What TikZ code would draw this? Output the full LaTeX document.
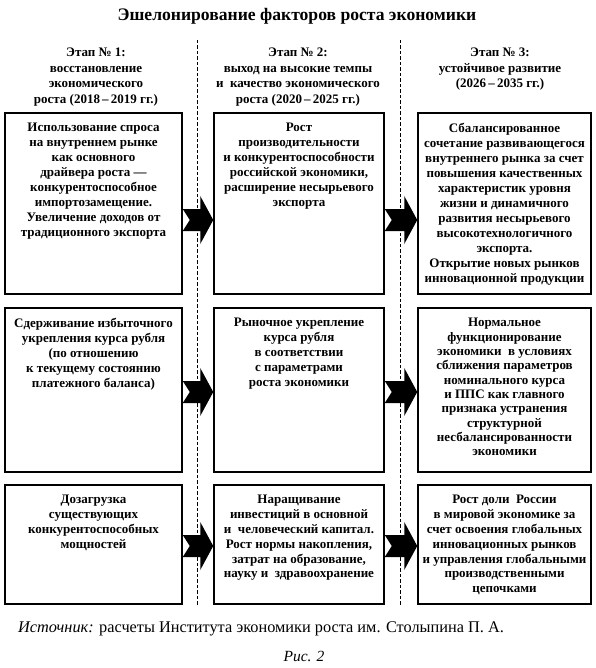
\documentclass[tikz,border=0pt]{standalone}
\usepackage{fontspec}
\setmainfont{Liberation Serif}
\usetikzlibrary{calc}
\tikzset{
  box/.style={draw=black, line width=1.5pt, rectangle, inner sep=0pt},
  txt/.style={anchor=north, align=center, inner sep=0pt, font=\bfseries\fontsize{13}{15}\selectfont},
  hdr/.style={anchor=north, align=center, inner sep=0pt, font=\bfseries\fontsize{13}{15.5}\selectfont},
  sep/.style={line width=1pt, dash pattern=on 3.5pt off 2pt},
}
\newcommand\blockarr[2]{%
  \fill[black] let \p1=(#1), \p2=(#2) in
    (\x1,\y1+11pt) -- ({\x2-13pt},\y1+11pt) -- ({\x2-13pt},\y1+24pt) -- (\x2,\y1)
    -- ({\x2-13pt},\y1-24pt) -- ({\x2-13pt},\y1-11pt) -- (\x1,\y1-11pt)
    -- ({\x1+7pt},\y1) -- cycle;}
\begin{document}
\begin{tikzpicture}[x=1pt,y=-1pt]
\fill[white] (0,0) rectangle (595,668);
\useasboundingbox (0,0) rectangle (595,668);

\node[font=\bfseries\fontsize{17.6}{20}\selectfont, inner sep=0pt] (title) at (297,16) {Эшелонирование факторов роста экономики};

\node[hdr] (h1) at (96,48) {Этап № 1:\\восстановление\\экономического\\роста (2018\,–\,2019 гг.)};
\node[hdr] (h2) at (298,48) {Этап № 2:\\выход на высокие темпы\\и~ качество экономического\\роста (2020\,–\,2025 гг.)};
\node[hdr] (h3) at (500,48) {Этап № 3:\\устойчивое развитие\\(2026\,–\,2035 гг.)};

\coordinate (s1t) at (197,40); \coordinate (s1b) at (197,606);
\coordinate (s2t) at (400,40); \coordinate (s2b) at (400,606);
\draw[sep] (s1t) -- (s1b);
\draw[sep] (s2t) -- (s2b);

% boxes
\node[box, minimum width=177pt, minimum height=181pt] (b11) at (93.5,203.5) {};
\node[box, minimum width=170pt, minimum height=181pt] (b12) at (299,203.5) {};
\node[box, minimum width=173pt, minimum height=181pt] (b13) at (504.5,203.5) {};
\node[box, minimum width=177pt, minimum height=164pt] (b21) at (93.5,390) {};
\node[box, minimum width=170pt, minimum height=164pt] (b22) at (299,390) {};
\node[box, minimum width=173pt, minimum height=164pt] (b23) at (504.5,390) {};
\node[box, minimum width=177pt, minimum height=119pt] (b31) at (93.5,544.5) {};
\node[box, minimum width=170pt, minimum height=119pt] (b32) at (299,544.5) {};
\node[box, minimum width=173pt, minimum height=119pt] (b33) at (504.5,544.5) {};

% texts
\node[txt] (t11) at ([yshift=-11pt]b11.north) {Использование спроса\\на внутреннем рынке\\как основного\\драйвера роста —\\конкурентоспособное\\импортозамещение.\\Увеличение доходов от\\традиционного экспорта};
\node[txt] (t12) at ([yshift=-11pt]b12.north) {Рост\\производительности\\и конкурентоспособности\\российской экономики,\\расширение несырьевого\\экспорта};
\node[txt] (t13) at ([yshift=-11pt]b13.north) {Сбалансированное\\сочетание развивающегося\\внутреннего рынка за счет\\повышения качественных\\характеристик уровня\\жизни и динамичного\\развития несырьевого\\высокотехнологичного\\экспорта.\\Открытие новых рынков\\инновационной продукции};
\node[txt] (t21) at ([yshift=-11pt]b21.north) {Сдерживание избыточного\\укрепления курса рубля\\(по отношению\\к текущему состоянию\\платежного баланса)};
\node[txt] (t22) at ([yshift=-11pt]b22.north) {Рыночное укрепление\\курса рубля\\в соответствии\\с параметрами\\роста экономики};
\node[txt, font=\bfseries\fontsize{13}{14.3}\selectfont] (t23) at ([yshift=-11pt]b23.north) {Нормальное\\функционирование\\экономики~ в условиях\\сближения параметров\\номинального курса\\и ППС как главного\\признака устранения\\структурной\\несбалансированности\\экономики};
\node[txt, font=\bfseries\fontsize{13}{14.8}\selectfont] (t31) at ([yshift=-11pt]b31.north) {Дозагрузка\\существующих\\конкурентоспособных\\мощностей};
\node[txt, font=\bfseries\fontsize{13}{14.8}\selectfont] (t32) at ([yshift=-11pt]b32.north) {Наращивание\\инвестиций в основной\\и~ человеческий капитал.\\Рост нормы накопления,\\затрат на образование,\\науку и~ здравоохранение};
\node[txt, font=\bfseries\fontsize{13}{14.8}\selectfont] (t33) at ([yshift=-11pt]b33.north) {Рост доли~ России\\в мировой экономике за\\счет освоения глобальных\\инновационных рынков\\и управления глобальными\\производственными\\цепочками};

% arrows
\coordinate (r1) at (0,220); \coordinate (r2) at (0,392); \coordinate (r3) at (0,546);
\coordinate (a11) at (b11.east |- r1); \coordinate (a12) at (b12.west |- r1);
\coordinate (a21) at (b12.east |- r1); \coordinate (a22) at (b13.west |- r1);
\coordinate (a31) at (b21.east |- r2); \coordinate (a32) at (b22.west |- r2);
\coordinate (a41) at (b22.east |- r2); \coordinate (a42) at (b23.west |- r2);
\coordinate (a51) at (b31.east |- r3); \coordinate (a52) at (b32.west |- r3);
\coordinate (a61) at (b32.east |- r3); \coordinate (a62) at (b33.west |- r3);
\blockarr{a11}{a12}
\blockarr{a21}{a22}
\blockarr{a31}{a32}
\blockarr{a41}{a42}
\blockarr{a51}{a52}
\blockarr{a61}{a62}

\node[anchor=west, inner sep=0pt, font=\fontsize{16.3}{19}\selectfont] (src) at (18,629) {\textit{Источник:} расчеты Института экономики роста им. Столыпина П.~А.};
\node[inner sep=0pt, font=\itshape\fontsize{15.5}{18}\selectfont] (fig) at (304,656) {Рис. 2};
\end{tikzpicture}
\end{document}
